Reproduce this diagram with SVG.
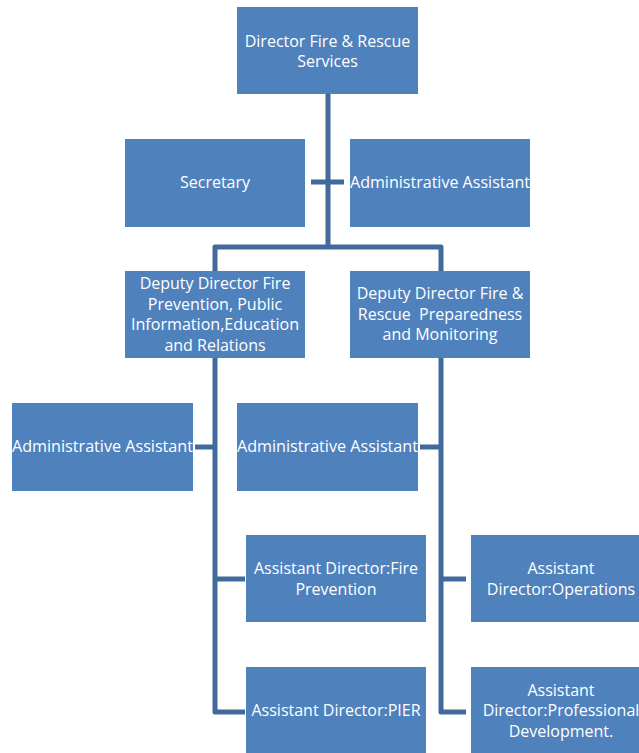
<svg xmlns="http://www.w3.org/2000/svg" width="639" height="753" viewBox="0 0 639 753">
<style>
.box{fill:#4f81bd;}
.t{fill:#ffffff;font-family:"Open Sans","Noto Sans",sans-serif;font-size:16px;text-anchor:middle;}
.c{fill:none;stroke:#40699c;stroke-width:5;stroke-linejoin:round;}
</style>
<rect width="639" height="753" fill="#ffffff"/>
<g id="connectors">
<path class="c" d="M328,94 V247"/>
<path class="c" d="M311,182 H344"/>
<path class="c" d="M215,271 V247 H441 V271"/>
<path class="c" d="M215,358 V712 H245"/>
<path class="c" d="M195,447 H215"/>
<path class="c" d="M215,579 H245"/>
<path class="c" d="M441,358 V712 H466"/>
<path class="c" d="M420,447 H441"/>
<path class="c" d="M441,579 H466"/>
</g>
<g id="director">
<rect class="box" x="237" y="7" width="181" height="87"/>
<text class="t" x="327.5" y="46.5">Director Fire &amp; Rescue</text>
<text class="t" x="327.5" y="67">Services</text>
</g>
<g id="secretary">
<rect class="box" x="125" y="139" width="180" height="88"/>
<text class="t" x="215" y="188">Secretary</text>
</g>
<g id="admin-top">
<rect class="box" x="350" y="139" width="180" height="88"/>
<text class="t" x="440" y="188" textLength="180" lengthAdjust="spacingAndGlyphs">Administrative  Assistant</text>
</g>
<g id="deputy-prevention">
<rect class="box" x="125" y="271" width="180" height="87"/>
<text class="t" x="215" y="289">Deputy Director Fire</text>
<text class="t" x="215" y="309.5">Prevention, Public</text>
<text class="t" x="215" y="330" textLength="168" lengthAdjust="spacingAndGlyphs">Information,Education</text>
<text class="t" x="215" y="350.5">and Relations</text>
</g>
<g id="deputy-preparedness">
<rect class="box" x="350" y="271" width="180" height="87"/>
<text class="t" x="440" y="299">Deputy Director Fire &amp;</text>
<text class="t" x="440" y="319.5" xml:space="preserve">Rescue  Preparedness</text>
<text class="t" x="440" y="340">and Monitoring</text>
</g>
<g id="admin-left">
<rect class="box" x="12" y="403" width="181" height="88"/>
<text class="t" x="102.5" y="452" textLength="181" lengthAdjust="spacingAndGlyphs">Administrative  Assistant</text>
</g>
<g id="admin-middle">
<rect class="box" x="237" y="403" width="181" height="88"/>
<text class="t" x="327.5" y="452" textLength="181" lengthAdjust="spacingAndGlyphs">Administrative  Assistant</text>
</g>
<g id="ad-fire-prevention">
<rect class="box" x="246" y="535" width="180" height="87"/>
<text class="t" x="336" y="574">Assistant Director:Fire</text>
<text class="t" x="336" y="595">Prevention</text>
</g>
<g id="ad-operations">
<rect class="box" x="471" y="535" width="180" height="87"/>
<text class="t" x="561" y="574">Assistant</text>
<text class="t" x="561" y="595">Director:Operations</text>
</g>
<g id="ad-pier">
<rect class="box" x="246" y="667" width="180" height="88"/>
<text class="t" x="336" y="716">Assistant Director:PIER</text>
</g>
<g id="ad-professional">
<rect class="box" x="471" y="667" width="180" height="88"/>
<text class="t" x="561" y="696">Assistant</text>
<text class="t" x="561" y="716">Director:Professional</text>
<text class="t" x="561" y="737">Development.</text>
</g>
</svg>
